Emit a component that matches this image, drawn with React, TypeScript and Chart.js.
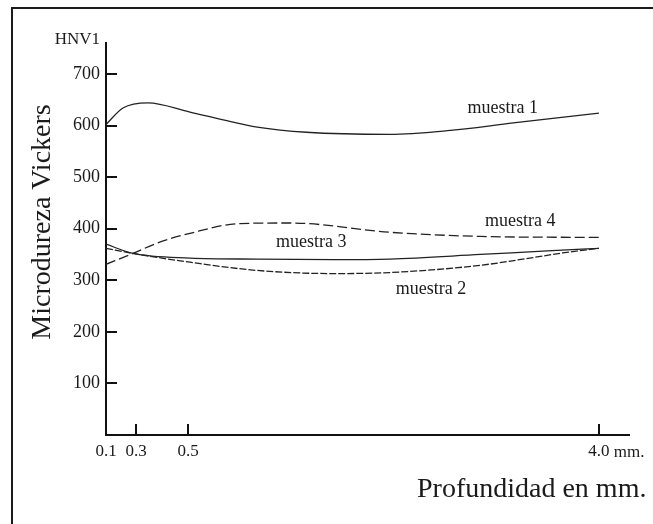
import React, { useEffect, useRef } from 'react';
import { Chart, registerables, LinearScale } from 'chart.js';

// ---- data ----
const xTickValues = [0.1, 0.3, 0.5, 4.0];
const xTickLabels = ['0.1', '0.3', '0.5', '4.0'];
const xUnitLabel = ' mm.';
const yTickValues = [100, 200, 300, 400, 500, 600, 700];

const muestra1X = [0.1, 0.213, 0.346, 0.517, 0.8, 1.09, 1.51, 2.22, 2.71, 3.27, 4.0];
const muestra1Y = [602, 634, 644, 626, 611, 597, 587, 583, 590, 605, 624];

const muestra2X = [0.1, 0.28, 0.517, 1.09, 1.74, 2.22, 2.99, 3.41, 3.69, 4.0];
const muestra2Y = [362, 352, 335, 319, 313, 315, 329, 343, 353, 362];

const muestra3X = [0.1, 0.28, 0.517, 1.09, 1.74, 2.22, 2.99, 3.56, 4.0];
const muestra3Y = [370, 352, 343, 341, 340, 341, 350, 357, 362];

const muestra4X = [0.1, 0.28, 0.381, 0.517, 0.943, 1.37, 2.22, 2.99, 4.0];
const muestra4Y = [331, 352, 372, 391, 410, 411, 393, 385, 383];

const curveLabels = ['muestra 1', 'muestra 2', 'muestra 3', 'muestra 4'];
const curveLabelX = [3.18, 2.57, 1.55, 3.33];
const curveLabelY = [634, 283, 374, 415];

const yUnit = 'HNV1';
const yTitle = 'Microdureza Vickers';
const xTitle = 'Profundidad en mm.';

// ---- piecewise linear x scale (axis is not to scale in the original) ----
class PiecewiseScale extends LinearScale {
  static id = 'piecewise';
  static defaults = {};
  buildTicks() {
    const vals: number[] = (this.options as any).tickValues || [];
    return vals.map((v) => ({ value: v }));
  }
  _frac(v: number) {
    const k: number[] = (this.options as any).knots;
    const f: number[] = (this.options as any).fractions;
    let i = 1;
    while (i < k.length - 1 && v > k[i]) i++;
    return f[i - 1] + ((v - k[i - 1]) / (k[i] - k[i - 1])) * (f[i] - f[i - 1]);
  }
  getPixelForValue(v: number) {
    return this.getPixelForDecimal(this._frac(v));
  }
  getValueForPixel(p: number) {
    const d = this.getDecimalForPixel(p);
    const k: number[] = (this.options as any).knots;
    const f: number[] = (this.options as any).fractions;
    let i = 1;
    while (i < f.length - 1 && d > f[i]) i++;
    return k[i - 1] + ((d - f[i - 1]) / (f[i] - f[i - 1])) * (k[i] - k[i - 1]);
  }
}

Chart.register(...registerables, PiecewiseScale as any);

const FONT = "'Liberation Serif', 'Times New Roman', serif";
const INK = '#1a1a1a';

const decorPlugin = {
  id: 'decor',
  afterDraw(chart: any) {
    const ctx = chart.ctx as CanvasRenderingContext2D;
    const xs = chart.scales.x;
    const ys = chart.scales.y;
    const area = chart.chartArea;
    ctx.save();
    ctx.strokeStyle = '#111';
    ctx.lineWidth = 2;
    ctx.beginPath();
    ys.ticks.forEach((t: any) => {
      const py = Math.round(ys.getPixelForValue(t.value));
      ctx.moveTo(area.left, py);
      ctx.lineTo(area.left + 11, py);
    });
    xs.ticks.forEach((t: any) => {
      if (t.value === xs.min) return;
      const px = Math.round(xs.getPixelForValue(t.value));
      ctx.moveTo(px, area.bottom);
      ctx.lineTo(px, area.bottom - 11);
    });
    ctx.stroke();

    ctx.fillStyle = INK;
    // unit on y axis
    ctx.font = `17px ${FONT}`;
    ctx.textAlign = 'right';
    ctx.textBaseline = 'alphabetic';
    ctx.fillText(yUnit, area.left - 6, area.top + 1);

    // "mm." after last x tick label
    const lastV = xTickValues[xTickValues.length - 1];
    const lastPx = xs.getPixelForValue(lastV);
    const lw = ctx.measureText(xTickLabels[xTickLabels.length - 1]).width;
    ctx.textAlign = 'left';
    ctx.textBaseline = 'alphabetic';
    ctx.fillText(xUnitLabel, lastPx + lw / 2, area.bottom + 22);

    // curve labels
    ctx.font = `18px ${FONT}`;
    ctx.textAlign = 'center';
    ctx.textBaseline = 'middle';
    curveLabels.forEach((lab, i) => {
      ctx.fillText(lab, xs.getPixelForValue(curveLabelX[i]), ys.getPixelForValue(curveLabelY[i]));
    });

    // axis titles
    ctx.font = `28px ${FONT}`;
    ctx.textAlign = 'left';
    ctx.textBaseline = 'alphabetic';
    ctx.fillText(xTitle, 417, 497);

    ctx.save();
    ctx.translate(50, 222);
    ctx.rotate(-Math.PI / 2);
    ctx.textAlign = 'center';
    ctx.fillText(yTitle, 0, 0);
    ctx.restore();

    ctx.restore();
  },
};

function pts(xs: number[], ys: number[]) {
  return xs.map((x, i) => ({ x, y: ys[i] }));
}

export default function App() {
  const ref = useRef<HTMLCanvasElement>(null);
  useEffect(() => {
    if (!ref.current) return;
    const line = (label: string, data: any[], dash: number[]) => ({
      label,
      data,
      borderColor: '#222',
      borderWidth: 1.3,
      borderDash: dash,
      pointRadius: 0,
      fill: false,
      cubicInterpolationMode: 'monotone' as const,
    });
    const chart = new Chart(ref.current, {
      type: 'line',
      data: {
        datasets: [
          line('muestra 1', pts(muestra1X, muestra1Y), []),
          line('muestra 2', pts(muestra2X, muestra2Y), [7, 2]),
          line('muestra 3', pts(muestra3X, muestra3Y), []),
          line('muestra 4', pts(muestra4X, muestra4Y), [10, 4]),
        ],
      },
      options: {
        animation: false,
        responsive: false,
        devicePixelRatio: 1,
        layout: { padding: { left: 0, top: 43, right: 24, bottom: 0 } },
        plugins: { legend: { display: false }, tooltip: { enabled: false } },
        scales: {
          x: {
            type: 'piecewise' as any,
            min: 0.1,
            max: 4.26,
            knots: [0.1, 0.3, 0.5, 4.0, 4.26],
            fractions: [0, 0.0574, 0.1568, 0.9426, 1],
            tickValues: xTickValues,
            grid: { display: false, drawTicks: false },
            border: { display: true, color: '#111', width: 2 },
            ticks: {
              autoSkip: false,
              maxRotation: 0,
              padding: 6,
              color: INK,
              font: { family: FONT, size: 17 },
              callback: (v: any) => {
                const i = xTickValues.indexOf(Number(v));
                return i >= 0 ? xTickLabels[i] : '';
              },
            },
            afterFit: (s: any) => {
              s.height = 89;
            },
          } as any,
          y: {
            type: 'linear',
            min: 0,
            max: 760,
            grid: { display: false, drawTicks: false },
            border: { display: true, color: '#111', width: 2 },
            afterBuildTicks: (s: any) => {
              s.ticks = yTickValues.map((v) => ({ value: v }));
            },
            ticks: {
              padding: 6,
              color: INK,
              font: { family: FONT, size: 18 },
              callback: (v: any) => String(v),
            },
            afterFit: (s: any) => {
              s.width = 106;
            },
          },
        },
      },
      plugins: [decorPlugin],
    });
    return () => chart.destroy();
  }, []);

  return (
    <div
      style={{
        position: 'fixed',
        left: 0,
        top: 0,
        width: 653,
        height: 524,
        overflow: 'hidden',
        background: '#fff',
      }}
    >
      <div
        style={{
          position: 'absolute',
          left: 11,
          top: 7,
          width: 800,
          height: 800,
          border: '2px solid #1b1b1b',
        }}
      />
      <canvas
        ref={ref}
        width={653}
        height={524}
        style={{ position: 'absolute', left: 0, top: 0, width: 653, height: 524 }}
      />
    </div>
  );
}
